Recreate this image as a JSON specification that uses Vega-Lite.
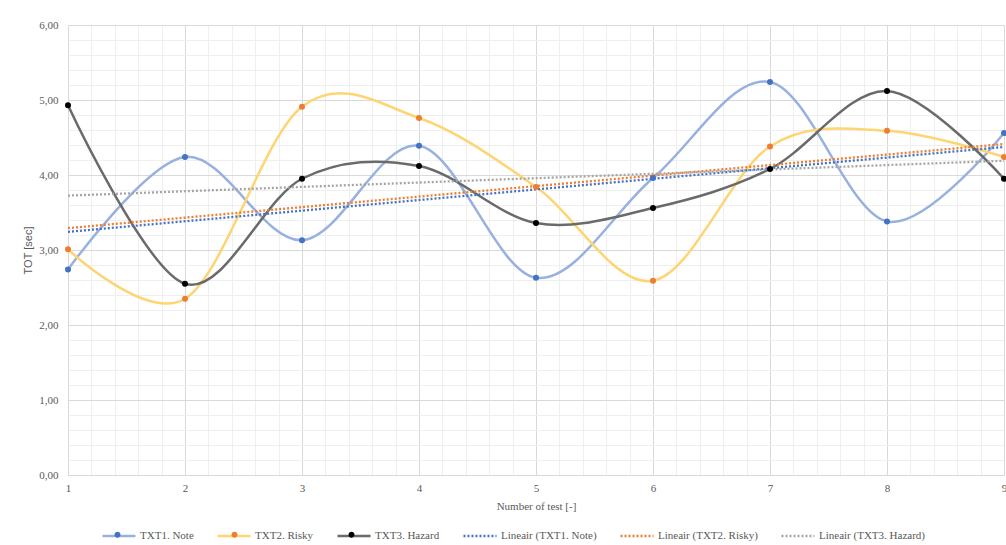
{
  "$schema": "https://vega.github.io/schema/vega-lite/v6.json",
  "width": 936,
  "height": 450,
  "autosize": "none",
  "padding": {"left": 68, "top": 25, "right": 2, "bottom": 70},
  "background": "white",
  "config": {"view": {"stroke": null}, "font": "Liberation Serif"},
  "data": {
    "values": [
      {"test": 1, "tot": 2.74, "series": "TXT1. Note", "trend": "Lineair (TXT1. Note)"},
      {"test": 2, "tot": 4.24, "series": "TXT1. Note", "trend": "Lineair (TXT1. Note)"},
      {"test": 3, "tot": 3.13, "series": "TXT1. Note", "trend": "Lineair (TXT1. Note)"},
      {"test": 4, "tot": 4.39, "series": "TXT1. Note", "trend": "Lineair (TXT1. Note)"},
      {"test": 5, "tot": 2.63, "series": "TXT1. Note", "trend": "Lineair (TXT1. Note)"},
      {"test": 6, "tot": 3.96, "series": "TXT1. Note", "trend": "Lineair (TXT1. Note)"},
      {"test": 7, "tot": 5.24, "series": "TXT1. Note", "trend": "Lineair (TXT1. Note)"},
      {"test": 8, "tot": 3.38, "series": "TXT1. Note", "trend": "Lineair (TXT1. Note)"},
      {"test": 9, "tot": 4.56, "series": "TXT1. Note", "trend": "Lineair (TXT1. Note)"},
      {"test": 1, "tot": 3.01, "series": "TXT2. Risky", "trend": "Lineair (TXT2. Risky)"},
      {"test": 2, "tot": 2.35, "series": "TXT2. Risky", "trend": "Lineair (TXT2. Risky)"},
      {"test": 3, "tot": 4.91, "series": "TXT2. Risky", "trend": "Lineair (TXT2. Risky)"},
      {"test": 4, "tot": 4.76, "series": "TXT2. Risky", "trend": "Lineair (TXT2. Risky)"},
      {"test": 5, "tot": 3.84, "series": "TXT2. Risky", "trend": "Lineair (TXT2. Risky)"},
      {"test": 6, "tot": 2.59, "series": "TXT2. Risky", "trend": "Lineair (TXT2. Risky)"},
      {"test": 7, "tot": 4.38, "series": "TXT2. Risky", "trend": "Lineair (TXT2. Risky)"},
      {"test": 8, "tot": 4.59, "series": "TXT2. Risky", "trend": "Lineair (TXT2. Risky)"},
      {"test": 9, "tot": 4.24, "series": "TXT2. Risky", "trend": "Lineair (TXT2. Risky)"},
      {"test": 1, "tot": 4.93, "series": "TXT3. Hazard", "trend": "Lineair (TXT3. Hazard)"},
      {"test": 2, "tot": 2.55, "series": "TXT3. Hazard", "trend": "Lineair (TXT3. Hazard)"},
      {"test": 3, "tot": 3.95, "series": "TXT3. Hazard", "trend": "Lineair (TXT3. Hazard)"},
      {"test": 4, "tot": 4.12, "series": "TXT3. Hazard", "trend": "Lineair (TXT3. Hazard)"},
      {"test": 5, "tot": 3.36, "series": "TXT3. Hazard", "trend": "Lineair (TXT3. Hazard)"},
      {"test": 6, "tot": 3.56, "series": "TXT3. Hazard", "trend": "Lineair (TXT3. Hazard)"},
      {"test": 7, "tot": 4.08, "series": "TXT3. Hazard", "trend": "Lineair (TXT3. Hazard)"},
      {"test": 8, "tot": 5.12, "series": "TXT3. Hazard", "trend": "Lineair (TXT3. Hazard)"},
      {"test": 9, "tot": 3.95, "series": "TXT3. Hazard", "trend": "Lineair (TXT3. Hazard)"}
    ]
  },
  "encoding": {
    "x": {
      "field": "test",
      "type": "quantitative",
      "scale": {"domain": [1, 9], "nice": false, "zero": false},
      "axis": {
        "title": "Number of test [-]",
        "values": [1, 1.2, 1.4, 1.6, 1.8, 2, 2.2, 2.4, 2.6, 2.8, 3, 3.2, 3.4, 3.6, 3.8, 4, 4.2, 4.4, 4.6, 4.8, 5, 5.2, 5.4, 5.6, 5.8, 6, 6.2, 6.4, 6.6, 6.8, 7, 7.2, 7.4, 7.6, 7.8, 8, 8.2, 8.4, 8.6, 8.8, 9],
        "labelExpr": "datum.value % 1 === 0 ? format(datum.value, 'd') : ''",
        "ticks": false,
        "domain": true,
        "domainColor": "#d9d9d9",
        "domainWidth": 1,
        "grid": true,
        "gridColor": {"condition": {"test": "datum.value % 1 === 0", "value": "#d9d9d9"}, "value": "#efefef"},
        "gridWidth": 1,
        "labelFlush": false,
        "labelOverlap": false,
        "labelPadding": 7,
        "labelFont": "Liberation Serif",
        "labelFontSize": 11,
        "labelColor": "#595959",
        "titleFont": "Liberation Serif",
        "titleFontSize": 11,
        "titleFontWeight": "normal",
        "titleColor": "#595959",
        "titlePadding": 7
      }
    },
    "y": {
      "field": "tot",
      "type": "quantitative",
      "scale": {"domain": [0, 6], "nice": false},
      "axis": {
        "title": "TOT [sec]",
        "values": [0, 0.2, 0.4, 0.6, 0.8, 1, 1.2, 1.4, 1.6, 1.8, 2, 2.2, 2.4, 2.6, 2.8, 3, 3.2, 3.4, 3.6, 3.8, 4, 4.2, 4.4, 4.6, 4.8, 5, 5.2, 5.4, 5.6, 5.8, 6],
        "labelExpr": "datum.value % 1 === 0 ? replace(format(datum.value, '.2f'), '.', ',') : ''",
        "ticks": false,
        "domain": false,
        "grid": true,
        "gridColor": {"condition": {"test": "datum.value % 1 === 0", "value": "#d9d9d9"}, "value": "#efefef"},
        "gridWidth": 1,
        "labelOverlap": false,
        "labelPadding": 10,
        "labelFont": "Liberation Serif",
        "labelFontSize": 11,
        "labelColor": "#595959",
        "titleFont": "Liberation Sans",
        "titleFontSize": 11,
        "titleFontWeight": "normal",
        "titleColor": "#595959",
        "titlePadding": 5
      }
    }
  },
  "layer": [
    {
      "mark": {"type": "line", "interpolate": "cardinal", "strokeWidth": 2.5},
      "encoding": {
        "color": {
          "field": "series",
          "type": "nominal",
          "scale": {
            "domain": ["TXT1. Note", "TXT2. Risky", "TXT3. Hazard", "Lineair (TXT1. Note)", "Lineair (TXT2. Risky)", "Lineair (TXT3. Hazard)"],
            "range": ["#98b1de", "#fdd572", "#6a6a6a", "#4472c4", "#ed7d31", "#a5a5a5"]
          },
          "legend": {
            "title": null,
            "orient": "none",
            "legendX": 33,
            "legendY": 493,
            "direction": "horizontal",
            "columns": 6,
            "padding": 0,
            "columnPadding": 18,
            "labelOffset": 3,
            "labelFont": "Liberation Serif",
            "labelFontSize": 11,
            "labelColor": "#595959",
            "symbolSize": 1089,
            "symbolType": "stroke",
            "symbolStrokeWidth": 2.5,
            "encode": {
              "symbols": {
                "update": {
                  "shape": {"value": "stroke"},
                  "strokeDash": {"signal": "indexof(datum.value, 'Lineair') === 0 ? [2, 2] : [1, 0]"},
                  "strokeWidth": {"value": 2.5}
                }
              }
            }
          }
        }
      }
    },
    {
      "transform": [{"regression": "tot", "on": "test", "groupby": ["trend"]}],
      "mark": {"type": "line", "strokeWidth": 2.3, "strokeDash": [2, 2]},
      "encoding": {
        "color": {"field": "trend", "type": "nominal"}
      }
    },
    {
      "mark": {"type": "circle", "size": 36, "opacity": 1},
      "encoding": {
        "fill": {
          "field": "series",
          "type": "nominal",
          "scale": {
            "domain": ["TXT1. Note", "TXT2. Risky", "TXT3. Hazard"],
            "range": ["#4472c4", "#ed7d31", "#000000"]
          },
          "legend": {
            "title": null,
            "orient": "none",
            "legendX": 33,
            "legendY": 493,
            "direction": "horizontal",
            "columns": 3,
            "padding": 0,
            "columnPadding": 84,
            "labelOffset": 0,
            "labelExpr": "''",
            "symbolSize": 1089,
            "symbolType": "M-0.18,0A0.18,0.18 0 1,0 0.18,0A0.18,0.18 0 1,0 -0.18,0Z",
            "symbolStrokeWidth": 0,
            "encode": {
              "symbols": {
                "update": {
                  "opacity": {"value": 1},
                  "fillOpacity": {"value": 1},
                  "strokeWidth": {"value": 0}
                }
              }
            }
          }
        }
      }
    }
  ]
}
